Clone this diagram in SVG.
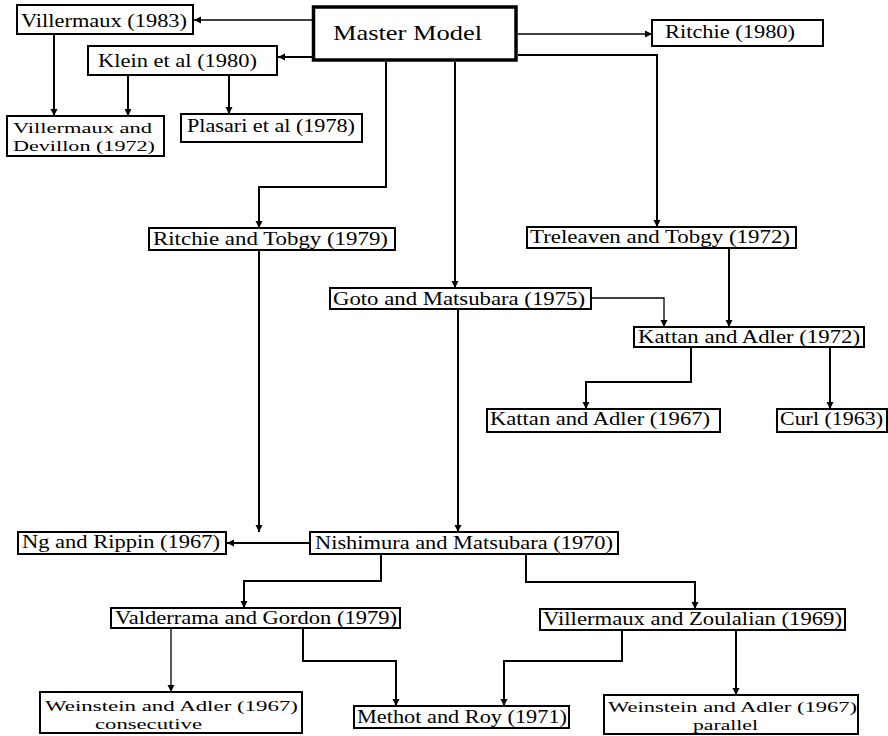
<svg xmlns="http://www.w3.org/2000/svg" width="888" height="736" viewBox="0 0 888 736">
<style>
.box{fill:#fff;stroke:#000;stroke-width:2}
.t{font-family:"Liberation Serif","Times New Roman",serif;font-size:18px;fill:#000}
.t2{font-size:15.5px}
.c{fill:none;stroke:#000;stroke-width:2;marker-end:url(#ah)}
.thin{stroke-width:1.3}
</style>
<defs>
<marker id="ah" markerUnits="userSpaceOnUse" markerWidth="8" markerHeight="8" refX="7" refY="4" orient="auto">
<path d="M0,0.5 L7,4 L0,7.5 z" fill="#000"/>
</marker>
</defs>
<rect width="888" height="736" fill="#fff"/>
<g id="connectors">
<path class="c thin" d="M312,20 H194"/>
<path class="c" d="M312,57 H278"/>
<path class="c thin" d="M518,34 H652"/>
<path class="c" d="M518,55 H657 V227"/>
<path class="c" d="M455,62 V288"/>
<path class="c" d="M386,62 V187 H259 V228"/>
<path class="c" d="M54,34 V116"/>
<path class="c" d="M128,75 V116"/>
<path class="c" d="M229,75 V114"/>
<path class="c" d="M259,250 V532"/>
<path class="c thin" d="M591,298 H664 V327"/>
<path class="c" d="M729,248 V327"/>
<path class="c" d="M691,347 V382 H586 V409"/>
<path class="c" d="M830,347 V409"/>
<path class="c" d="M458,310 V532"/>
<path class="c" d="M310,543 H227"/>
<path class="c" d="M381,554 V581 H244 V608"/>
<path class="c" d="M526,554 V582 H695 V609"/>
<path class="c thin" d="M171,628 V692"/>
<path class="c" d="M303,628 V661 H396 V706"/>
<path class="c" d="M622,630 V661 H504 V706"/>
<path class="c" d="M736,630 V695"/>
</g>
<g id="master"><rect class="box" x="313.5" y="7" width="202.5" height="53" style="stroke-width:3.5"/><text class="t" x="333" y="40" textLength="149" lengthAdjust="spacingAndGlyphs" style="font-size:21px">Master Model</text></g>
<g id="villermaux1983"><rect class="box" x="17" y="5" width="176" height="29"/><text class="t" x="21" y="27" textLength="166" lengthAdjust="spacingAndGlyphs">Villermaux (1983)</text></g>
<g id="klein"><rect class="box" x="88" y="46" width="189" height="29"/><text class="t" x="98" y="67" textLength="159" lengthAdjust="spacingAndGlyphs">Klein et al (1980)</text></g>
<g id="villermaux-devillon"><rect class="box" x="7" y="116" width="157" height="40"/><text class="t t2" x="13" y="133" textLength="139" lengthAdjust="spacingAndGlyphs">Villermaux and</text><text class="t t2" x="13" y="151" textLength="142" lengthAdjust="spacingAndGlyphs">Devillon (1972)</text></g>
<g id="plasari"><rect class="box" x="181" y="114" width="181" height="28"/><text class="t" x="187" y="132" textLength="168" lengthAdjust="spacingAndGlyphs">Plasari et al (1978)</text></g>
<g id="ritchie1980"><rect class="box" x="652" y="20" width="171" height="26"/><text class="t" x="665" y="38" textLength="130" lengthAdjust="spacingAndGlyphs">Ritchie (1980)</text></g>
<g id="ritchie-tobgy"><rect class="box" x="149" y="228" width="246" height="22"/><text class="t" x="153" y="245" textLength="235" lengthAdjust="spacingAndGlyphs">Ritchie and Tobgy (1979)</text></g>
<g id="goto"><rect class="box" x="330" y="288" width="261" height="21"/><text class="t" x="333" y="305" textLength="252" lengthAdjust="spacingAndGlyphs">Goto and Matsubara (1975)</text></g>
<g id="treleaven"><rect class="box" x="527" y="227" width="269" height="21"/><text class="t" x="530" y="243" textLength="260" lengthAdjust="spacingAndGlyphs">Treleaven and Tobgy (1972)</text></g>
<g id="kattan1972"><rect class="box" x="634" y="327" width="230" height="20"/><text class="t" x="638" y="343" textLength="222" lengthAdjust="spacingAndGlyphs">Kattan and Adler (1972)</text></g>
<g id="kattan1967"><rect class="box" x="487" y="409" width="233" height="23"/><text class="t" x="490" y="425" textLength="220" lengthAdjust="spacingAndGlyphs">Kattan and Adler (1967)</text></g>
<g id="curl"><rect class="box" x="777" y="409" width="110" height="23"/><text class="t" x="780" y="425" textLength="103" lengthAdjust="spacingAndGlyphs">Curl (1963)</text></g>
<g id="ng"><rect class="box" x="18" y="532" width="208" height="22"/><text class="t" x="22" y="548" textLength="198" lengthAdjust="spacingAndGlyphs">Ng and Rippin (1967)</text></g>
<g id="nishimura"><rect class="box" x="310" y="532" width="308" height="22"/><text class="t" x="315" y="549" textLength="298" lengthAdjust="spacingAndGlyphs">Nishimura and Matsubara (1970)</text></g>
<g id="valderrama"><rect class="box" x="111" y="608" width="289" height="20"/><text class="t" x="115" y="624" textLength="282" lengthAdjust="spacingAndGlyphs">Valderrama and Gordon (1979)</text></g>
<g id="villermaux-zoulalian"><rect class="box" x="540" y="609" width="305" height="21"/><text class="t" x="543" y="625" textLength="299" lengthAdjust="spacingAndGlyphs">Villermaux and Zoulalian (1969)</text></g>
<g id="weinstein-consecutive"><rect class="box" x="40" y="692" width="262" height="41"/><text class="t t2" x="45" y="711" textLength="253" lengthAdjust="spacingAndGlyphs">Weinstein and Adler (1967)</text><text class="t t2" x="95" y="729" textLength="107" lengthAdjust="spacingAndGlyphs">consecutive</text></g>
<g id="methot"><rect class="box" x="354" y="706" width="215" height="22"/><text class="t" x="357" y="723" textLength="210" lengthAdjust="spacingAndGlyphs">Methot and Roy (1971)</text></g>
<g id="weinstein-parallel"><rect class="box" x="604" y="695" width="254" height="39"/><text class="t t2" x="608" y="712" textLength="249" lengthAdjust="spacingAndGlyphs">Weinstein and Adler (1967)</text><text class="t t2" x="693" y="730" textLength="65" lengthAdjust="spacingAndGlyphs">parallel</text></g>
</svg>
